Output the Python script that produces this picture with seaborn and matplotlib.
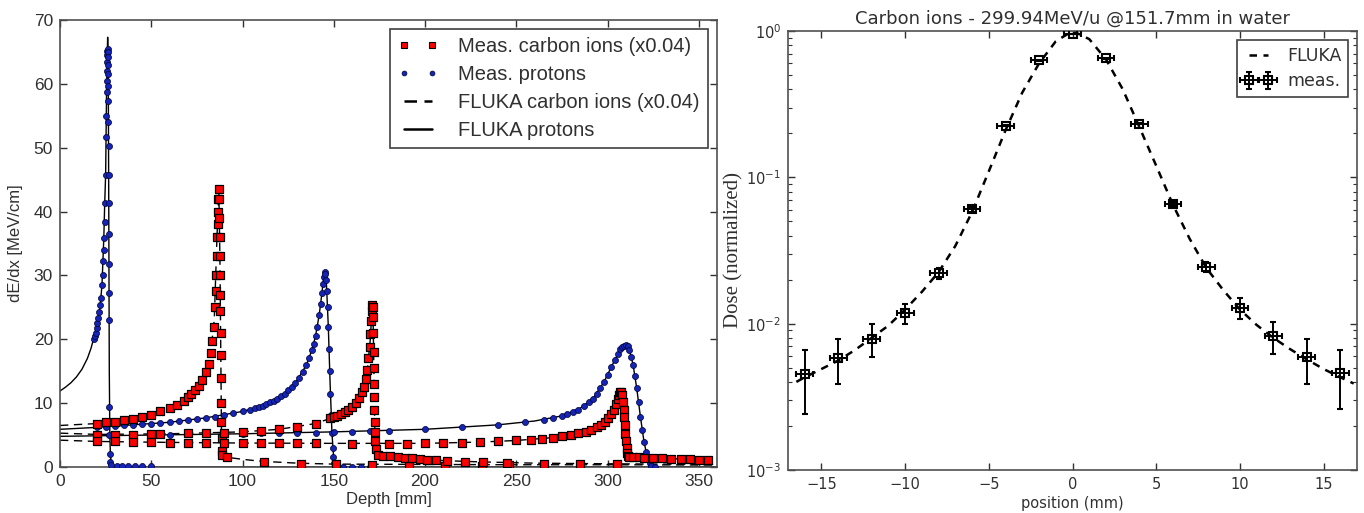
import matplotlib
matplotlib.use("Agg")
import matplotlib.pyplot as plt
import seaborn as sns
from matplotlib.lines import Line2D

# ------------------------------------------------------------------ data (left panel)
# FLUKA protons (solid lines)
fluka_p1_x = [0, 3, 6, 9, 12, 15, 17, 19, 21, 22, 23, 24, 24.5, 25, 25.5, 25.8, 26.1, 26.4, 26.7, 27.0, 27.3, 27.6, 28, 29, 31, 35, 360]
fluka_p1_y = [11.9, 12.5, 13.2, 14.1, 15.3, 17.0, 18.6, 20.7, 23.4, 25.3, 28.5, 35.9, 41.4, 45.8, 58.8, 63.5, 67.3, 64.2, 41.4, 15.0, 5.0, 2.0, 0.8, 0.3, 0.1, 0.0, 0.0]
fluka_p2_x = [0, 20, 40, 60, 80, 100, 110, 120, 125, 130, 135, 138, 140, 142, 143.5, 144.5, 145.2, 146, 147, 148, 149, 150, 151, 153, 360]
fluka_p2_y = [5.9, 6.2, 6.6, 7.0, 7.7, 8.7, 9.5, 10.9, 12.0, 13.6, 16.0, 18.3, 20.5, 23.8, 27.2, 29.8, 30.6, 28.5, 22.0, 13.0, 5.3, 1.2, 0.2, 0.0, 0.0]
fluka_p3_x = [0, 50, 100, 150, 200, 240, 260, 275, 285, 292, 298, 303, 307, 309.5, 312, 314, 316, 318, 320, 322, 324, 326, 360]
fluka_p3_y = [4.8, 5.0, 5.2, 5.5, 5.9, 6.6, 7.2, 8.0, 9.2, 10.7, 13.3, 16.2, 18.4, 19.1, 18.3, 16.0, 12.3, 7.9, 3.9, 1.3, 0.2, 0.0, 0.0]

# FLUKA carbon ions x0.04 (dashed lines)
fluka_c1_x = [0, 20, 40, 60, 70, 78, 82, 84.5, 86, 87, 87.6, 88.1, 88.5, 89, 92, 100, 110, 130, 150, 200, 250, 300, 360]
fluka_c1_y = [6.5, 6.8, 7.4, 8.9, 10.5, 13.3, 16.5, 23.0, 36.0, 43.5, 33.0, 17.5, 4.5, 1.9, 1.5, 1.2, 0.9, 0.6, 0.45, 0.4, 0.35, 0.35, 0.3]
fluka_c2_x = [0, 20, 60, 100, 120, 140, 150, 158, 163, 166.5, 168.5, 170, 171, 171.6, 172.1, 172.5, 173, 175, 190, 210, 230, 260, 300, 360]
fluka_c2_y = [5.3, 5.1, 5.2, 5.5, 5.9, 6.8, 7.8, 9.0, 10.4, 12.6, 15.5, 20.0, 25.0, 22.0, 13.0, 5.5, 2.5, 1.8, 1.4, 1.0, 0.8, 0.6, 0.5, 0.4]
fluka_c3_x = [0, 20, 60, 100, 150, 200, 230, 250, 270, 280, 288, 294, 298.5, 302, 304.5, 306.3, 307.4, 308.1, 308.9, 309.5, 310.1, 310.8, 312, 320, 340, 360]
fluka_c3_y = [4.2, 4.0, 3.85, 3.75, 3.7, 3.7, 3.9, 4.15, 4.6, 5.0, 5.5, 6.2, 7.1, 8.3, 9.8, 11.3, 11.8, 11.2, 9.0, 6.5, 4.0, 2.2, 1.6, 1.45, 1.25, 1.1]

# Measured protons
meas_p1_x = [18.5, 19.0, 19.5, 20.0, 20.5, 21.0, 21.5, 22.0, 22.5, 23.0, 23.3, 23.6, 23.9, 24.2, 24.5, 24.8, 25.0, 25.2, 25.4, 25.5,
             25.6, 25.7, 25.8, 25.9, 26.0, 26.1, 26.2, 26.3, 26.35, 26.4, 26.45, 26.5, 26.55, 26.6, 26.65, 26.7, 26.75, 26.8, 26.85, 26.9,
             27.0, 27.1, 27.3, 27.5, 28.0, 31.0, 34.0, 37.5, 41.0, 45.0, 50.0]
meas_p1_y = [20.0, 20.5, 21.0, 21.7, 22.5, 23.4, 24.3, 25.3, 26.5, 28.5, 30.0, 32.3, 34.0, 35.9, 38.3, 41.4, 45.8, 51.6, 55.0, 58.8,
             60.5, 62.0, 63.5, 64.5, 65.2, 65.5, 65.0, 64.2, 63.0, 61.5, 59.7, 57.3, 54.0, 50.2, 45.8, 41.4, 36.5, 31.8, 27.2, 23.0,
             9.4, 5.0, 2.0, 0.8, 0.3, 0.1, 0.1, 0.1, 0.1, 0.1, 0.1]
meas_p2_x = [20, 25, 30, 35, 40, 45, 50, 55, 60, 65, 70, 75, 80, 85, 90, 95, 100, 104, 107, 109, 111, 113, 115, 117, 119, 121, 123, 125,
             127, 129, 131, 133, 135, 136.5, 138, 139, 140, 141, 142, 142.8, 143.5, 144, 144.5, 145, 145.4, 145.8, 146.2, 146.6, 147,
             147.4, 147.8, 148.2, 148.6, 149, 149.4, 149.8, 150.2, 150.8, 152, 155, 160, 165, 170]
meas_p2_y = [6.2, 6.3, 6.4, 6.5, 6.6, 6.7, 6.8, 6.9, 7.0, 7.2, 7.3, 7.5, 7.7, 7.9, 8.1, 8.4, 8.7, 9.0, 9.2, 9.4, 9.6, 9.9, 10.1, 10.4, 10.7, 11.1, 11.5, 12.0,
             12.6, 13.2, 14.0, 14.9, 16.0, 17.0, 18.3, 19.3, 20.5, 22.0, 23.8, 25.5, 27.2, 28.6, 29.8, 30.5, 30.3, 29.3, 27.5, 25.0, 22.0,
             18.5, 15.0, 11.5, 8.2, 5.3, 3.0, 1.5, 0.6, 0.2, 0.05, 0.05, 0.05, 0.05, 0.05]
meas_p3_x = [20, 30, 40, 50, 60, 70, 80, 90, 100, 110, 120, 130, 140, 150, 160, 170, 180, 200, 220, 240, 255, 265, 270, 275, 278, 281, 284,
             287, 290, 292, 294, 296, 298, 300, 302, 304, 305.5, 307, 308, 309, 310, 311, 312, 313, 314, 315, 316, 317, 318, 319, 320,
             321, 322, 323, 324, 326]
meas_p3_y = [4.9, 4.95, 5.0, 5.0, 5.05, 5.1, 5.1, 5.15, 5.2, 5.25, 5.3, 5.35, 5.4, 5.5, 5.55, 5.6, 5.7, 5.9, 6.2, 6.6, 7.0, 7.4, 7.7, 8.0, 8.3, 8.6, 9.0,
             9.5, 10.1, 10.7, 11.4, 12.3, 13.3, 14.4, 15.6, 16.8, 17.7, 18.4, 18.8, 19.0, 19.1, 18.9, 18.3, 17.3, 16.0, 14.3, 12.3, 10.1, 7.9, 5.8, 3.9,
             2.4, 1.3, 0.6, 0.2, 0.05]

# Measured carbon ions (x0.04)
meas_c1_x = [20, 25, 30, 35, 40, 45, 50, 55, 60, 64, 68, 70, 72, 74, 76, 78, 80, 81.5, 82.5, 83.5, 84.3, 84.8, 85.2, 85.5, 85.8, 86.1,
             86.3, 86.5, 86.7, 86.9, 87.1, 87.3, 87.5, 87.6, 87.7, 87.8, 87.9, 88.0, 88.1, 88.2, 88.3, 88.4, 88.5, 88.7, 89, 91.5,
             112, 132, 151, 171, 191, 211, 231, 246, 265, 285, 305]
meas_c1_y = [6.8, 7.0, 7.1, 7.3, 7.5, 7.8, 8.2, 8.7, 9.2, 9.7, 10.4, 10.9, 11.4, 12.0, 12.7, 13.6, 14.8, 16.2, 17.8, 19.8, 22.0, 25.0, 27.5, 30.0, 33.0, 36.0,
             38.0, 40.0, 42.0, 43.5, 42.0, 39.0, 36.0, 33.0, 30.0, 27.0, 24.5, 21.0, 17.5, 14.0, 10.0, 7.0, 4.5, 2.5, 1.8, 1.6,
             0.8, 0.5, 0.4, 0.3, 0.1, 0.2, 0.2, 0.3, 0.4, 0.45, 0.4]
meas_c2_x = [20, 30, 40, 50, 55, 70, 80, 90, 100, 110, 120, 130, 140, 148, 150, 152, 154, 156, 158, 160, 162, 164, 165.5, 166.5, 167.5,
             168.3, 169, 169.6, 170.1, 170.5, 170.8, 171.1, 171.3, 171.5, 171.7, 171.9, 172.0, 172.1, 172.2, 172.3, 172.4, 172.5, 172.7,
             173, 174, 177, 181, 185, 189, 193, 197, 201, 206, 212, 222, 232, 245]
meas_c2_y = [5.0, 5.0, 5.0, 5.1, 5.1, 5.3, 5.3, 5.4, 5.5, 5.7, 5.9, 6.2, 6.8, 7.6, 7.8, 8.0, 8.3, 8.6, 9.0, 9.4, 10.0, 10.8, 11.7, 12.6, 13.8,
             15.2, 17.0, 18.8, 20.8, 22.8, 24.5, 25.3, 25.0, 23.5, 21.0, 18.0, 15.5, 13.0, 11.0, 9.0, 7.0, 5.5, 4.0,
             2.8, 1.8, 1.75, 1.65, 1.55, 1.45, 1.35, 1.25, 1.15, 1.05, 0.95, 0.85, 0.75, 0.65]
meas_c3_x = [20, 30, 40, 50, 60, 70, 80, 90, 100, 110, 120, 130, 140, 160, 180, 190, 200, 210, 220, 230, 240, 250, 258, 264, 270, 275, 280,
             284, 288, 291, 294, 296.5, 298.5, 300.5, 302, 303.5, 304.5, 305.5, 306.3, 307, 307.6, 308.1, 308.5, 308.9, 309.2, 309.5,
             309.8, 310.1, 310.4, 310.8, 311.3, 312, 314, 317, 320, 325, 330, 335, 340, 345, 350, 355]
meas_c3_y = [4.0, 4.0, 3.9, 3.9, 3.8, 3.8, 3.8, 3.75, 3.7, 3.7, 3.7, 3.7, 3.7, 3.65, 3.65, 3.65, 3.7, 3.75, 3.8, 3.9, 4.0, 4.15, 4.3, 4.45, 4.6, 4.8, 5.0,
             5.25, 5.5, 5.8, 6.2, 6.6, 7.1, 7.7, 8.3, 9.0, 9.8, 10.6, 11.3, 11.7, 11.8, 11.2, 10.2, 9.0, 7.8, 6.5,
             5.2, 4.0, 3.0, 2.2, 1.7, 1.6, 1.55, 1.5, 1.45, 1.4, 1.35, 1.3, 1.25, 1.2, 1.15, 1.1]

x_ticks_left = [0, 50, 100, 150, 200, 250, 300, 350]
y_ticks_left = [0, 10, 20, 30, 40, 50, 60, 70]
legend_left = ["Meas. carbon ions (x0.04)", "Meas. protons", "FLUKA carbon ions (x0.04)", "FLUKA protons"]

# ------------------------------------------------------------------ data (right panel)
fluka_lat_x = [-16.5, -16, -15, -14, -13, -12, -11, -10, -9, -8, -7, -6, -5, -4, -3, -2, -1, 0,
               1, 2, 3, 4, 5, 6, 7, 8, 9, 10, 11, 12, 13, 14, 15, 16, 16.8]
fluka_lat_y = [0.0040, 0.0043, 0.0049, 0.0056, 0.0066, 0.0080, 0.0097, 0.0125, 0.0165, 0.0225, 0.034, 0.058, 0.11, 0.21, 0.38, 0.60, 0.85, 1.0,
               0.88, 0.64, 0.40, 0.22, 0.12, 0.065, 0.038, 0.024, 0.017, 0.0125, 0.0098, 0.0080, 0.0067, 0.0057, 0.0049, 0.0043, 0.0039]
meas_pos = [-16, -14, -12, -10, -8, -6, -4, -2, 0, 2, 4, 6, 8, 10, 12, 14, 16]
meas_dose = [0.0045, 0.00585, 0.0079, 0.0118, 0.0222, 0.0603, 0.225, 0.629, 0.95, 0.649, 0.233, 0.0658, 0.0243, 0.0128, 0.0082, 0.0059, 0.0046]
meas_dose_err = [0.0021, 0.0020, 0.0020, 0.0019, 0.0019, 0.0020, 0.0020, 0.0020, 0.0020, 0.0020, 0.0020, 0.0020, 0.0019, 0.0021, 0.0020, 0.0020, 0.0020]
meas_pos_err = [0.5, 0.5, 0.5, 0.5, 0.5, 0.5, 0.5, 0.5, 0.5, 0.5, 0.5, 0.5, 0.5, 0.5, 0.5, 0.5, 0.5]
x_ticks_right = [-15, -10, -5, 0, 5, 10, 15]
title_right = "Carbon ions - 299.94MeV/u @151.7mm in water"

# ------------------------------------------------------------------ style
sns.set_theme(style="ticks")
plt.rcParams["font.family"] = ["Liberation Sans", "DejaVu Sans"]
plt.rcParams["axes.linewidth"] = 1.2
plt.rcParams["xtick.direction"] = "in"
plt.rcParams["ytick.direction"] = "in"

SPINE = "#505050"
TXT = "#303030"
RED = "#ff0000"
BLUE = "#1424b4"

fig = plt.figure(figsize=(13.64, 5.13), dpi=100)
axL = fig.add_axes([0.044, 0.0897, 0.4817, 0.8713])
axR = fig.add_axes([0.5777, 0.0838, 0.4172, 0.8558])

# ------------------------------------------------------------------ left panel
carbon_dash = (0, (6, 4))
for fx, fy in [(fluka_c1_x, fluka_c1_y), (fluka_c2_x, fluka_c2_y), (fluka_c3_x, fluka_c3_y)]:
    sns.lineplot(x=fx, y=fy, ax=axL, color="black", lw=1.0, linestyle=carbon_dash,
                 estimator=None, sort=False, zorder=2)
for fx, fy in [(fluka_p1_x, fluka_p1_y), (fluka_p2_x, fluka_p2_y), (fluka_p3_x, fluka_p3_y)]:
    sns.lineplot(x=fx, y=fy, ax=axL, color="black", lw=1.0,
                 estimator=None, sort=False, zorder=2)
for mx, my in [(meas_p1_x, meas_p1_y), (meas_p2_x, meas_p2_y), (meas_p3_x, meas_p3_y)]:
    sns.scatterplot(x=mx, y=my, ax=axL, marker="o", s=19, color=BLUE,
                    edgecolor="#000033", linewidth=0.5, zorder=3)
for mx, my in [(meas_c1_x, meas_c1_y), (meas_c2_x, meas_c2_y), (meas_c3_x, meas_c3_y)]:
    sns.scatterplot(x=mx, y=my, ax=axL, marker="s", s=26, color=RED,
                    edgecolor="black", linewidth=0.9, zorder=4)

axL.set_xlim(0, 360)
axL.set_ylim(0, 70)
axL.set_xticks(x_ticks_left)
axL.set_yticks(y_ticks_left)
axL.set_xlabel("Depth [mm]", fontsize=12, color=TXT, labelpad=2)
axL.set_ylabel("dE/dx [MeV/cm]", fontsize=12, color=TXT, labelpad=8)
axL.tick_params(axis="both", which="both", direction="in", top=True, right=True,
                labelsize=12.5, colors=TXT, length=5, width=1.0, pad=5)
for sp in axL.spines.values():
    sp.set_visible(True)
    sp.set_color(SPINE)

handles_left = [
    Line2D([], [], linestyle="none", marker="s", markersize=4, markerfacecolor=RED,
           markeredgecolor="black", markeredgewidth=0.8),
    Line2D([], [], linestyle="none", marker="o", markersize=3.5, markerfacecolor=BLUE,
           markeredgecolor="#000033", markeredgewidth=0.5),
    Line2D([], [], color="black", lw=1.8, linestyle=(0, (5, 3))),
    Line2D([], [], color="black", lw=1.8),
]
legL = axL.legend(handles_left, legend_left, loc="upper right", numpoints=2,
                  fontsize=14.5, frameon=True, fancybox=False, framealpha=1,
                  edgecolor="#404040", borderaxespad=0.45, handlelength=2.0,
                  handletextpad=1.0, labelspacing=0.45, borderpad=0.4)
legL.get_frame().set_linewidth(1.2)
for t in legL.get_texts():
    t.set_color(TXT)

# ------------------------------------------------------------------ right panel
sns.lineplot(x=fluka_lat_x, y=fluka_lat_y, ax=axR, color="black", lw=1.8,
             linestyle=(0, (3, 2.6)), estimator=None, sort=False, zorder=2, label="FLUKA")
axR.errorbar(meas_pos, meas_dose, yerr=meas_dose_err, xerr=meas_pos_err,
             fmt="s", markersize=6, markerfacecolor="none", markeredgecolor="black",
             markeredgewidth=1.5, ecolor="black", elinewidth=1.4, capsize=2.5,
             capthick=1.4, zorder=3, label="meas.")
axR.set_yscale("log")
axR.set_xlim(-17, 17)
axR.set_ylim(1e-3, 1)
axR.set_xticks(x_ticks_right)
axR.set_title(title_right, fontsize=13, color=TXT, family="DejaVu Sans", pad=5)
axR.set_xlabel("position (mm)", fontsize=10.5, color=TXT, family="DejaVu Sans", labelpad=3)
axR.set_ylabel("Dose (normalized)", fontsize=15, color=TXT, family="Liberation Serif", labelpad=2)
axR.tick_params(axis="both", which="major", direction="in", top=True, right=True,
                labelsize=10.5, colors=TXT, length=5, width=1.0, pad=5)
axR.tick_params(axis="y", which="minor", direction="in", left=True, right=True,
                length=3, width=0.8, colors=TXT)
axR.tick_params(axis="x", which="minor", bottom=False, top=False)
for lab in axR.get_xticklabels() + axR.get_yticklabels():
    lab.set_family("DejaVu Sans")
for sp in axR.spines.values():
    sp.set_visible(True)
    sp.set_color(SPINE)

legR = axR.legend(loc="upper right", numpoints=2, frameon=True,
                  fancybox=False, framealpha=1, edgecolor="#404040",
                  borderaxespad=0.5, handlelength=1.7, handletextpad=0.8,
                  labelspacing=0.45, borderpad=0.4,
                  prop={"family": "DejaVu Sans", "size": 12.5})
legR.get_frame().set_linewidth(1.2)
for t in legR.get_texts():
    t.set_color(TXT)

fig.savefig("out.png", dpi=100)
